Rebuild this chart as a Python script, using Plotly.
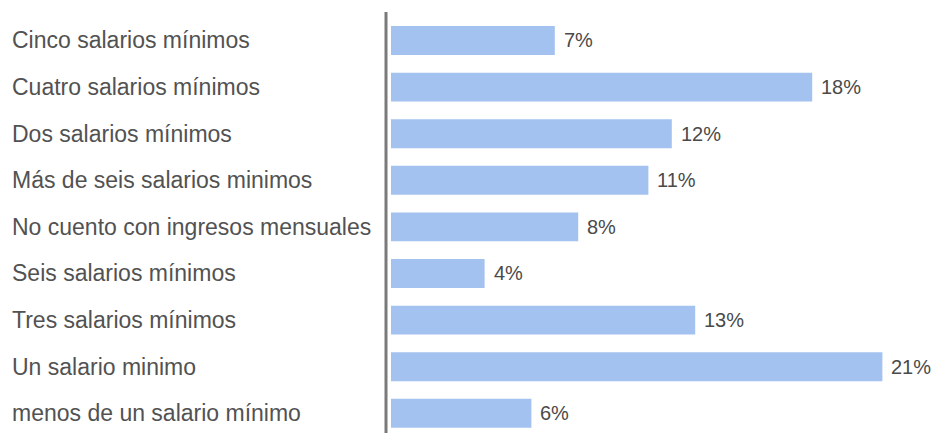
import plotly.graph_objects as go

categories = [
    "Cinco salarios mínimos",
    "Cuatro salarios mínimos",
    "Dos salarios mínimos",
    "Más de seis salarios minimos",
    "No cuento con ingresos mensuales",
    "Seis salarios mínimos",
    "Tres salarios mínimos",
    "Un salario minimo",
    "menos de un salario mínimo",
]
percentages = [7, 18, 12, 11, 8, 4, 13, 21, 6]

W, H = 935, 433
LEFT, TOP = 391, 17
plot_w = W - LEFT
px_per_unit = 23.4

fig = go.Figure(
    go.Bar(
        x=percentages,
        y=list(range(len(categories))),
        orientation="h",
        marker=dict(color="#a4c2f0", line=dict(width=0)),
        width=0.62,
        hoverinfo="skip",
    )
)

annotations = []
for i, (cat, val) in enumerate(zip(categories, percentages)):
    annotations.append(dict(
        x=(10 - LEFT) / plot_w, xref="paper", y=i, yref="y",
        text=cat, showarrow=False, xanchor="left", yanchor="middle",
        font=dict(family="Liberation Sans, Arial", size=23, color="#525252"),
    ))
    annotations.append(dict(
        x=val, xref="x", y=i, yref="y",
        text=f"{val}%", showarrow=False, xanchor="left", yanchor="middle",
        xshift=7,
        font=dict(family="Liberation Sans, Arial", size=20, color="#4a4a4a"),
    ))

fig.update_layout(
    width=W, height=H,
    margin=dict(l=LEFT, r=0, t=TOP, b=0),
    paper_bgcolor="white", plot_bgcolor="white",
    showlegend=False,
    xaxis=dict(range=[0, plot_w / px_per_unit], visible=False, fixedrange=True),
    yaxis=dict(range=[8.423, -0.504], visible=False, fixedrange=True),
    annotations=annotations,
    shapes=[dict(
        type="line", xref="paper", yref="paper",
        x0=(386 - LEFT) / plot_w, x1=(386 - LEFT) / plot_w,
        y0=0, y1=1 + 5 / (H - TOP),
        line=dict(color="#7a7a7a", width=3),
    )],
)

fig.write_html("out.html")
